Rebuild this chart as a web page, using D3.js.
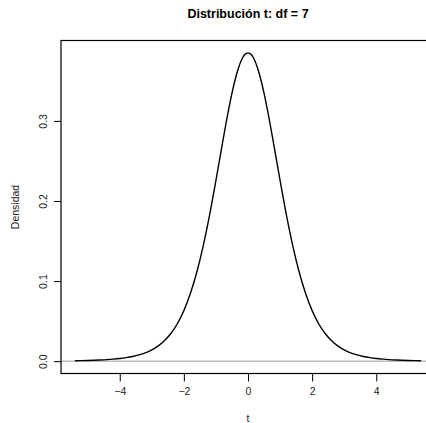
<!DOCTYPE html>
<html>
<head>
<meta charset="utf-8">
<script src="https://cdn.jsdelivr.net/npm/d3@7"></script>
<style>
  body { margin: 0; background: #fff; }
  svg { display: block; font-family: "Liberation Sans", Arial, sans-serif; }
</style>
</head>
<body>
<div id="chart"></div>
<script>
// density of t (df = 7)
var tValues = [-5.4, -5.2, -5.0, -4.8, -4.6, -4.4, -4.2, -4.0, -3.8, -3.6, -3.4, -3.2, -3.0,
               -2.8, -2.6, -2.4, -2.2, -2.0, -1.8, -1.6, -1.4, -1.2, -1.0, -0.8, -0.6, -0.5, -0.4,
               -0.3, -0.2, -0.1, 0, 0.1, 0.2, 0.3, 0.4, 0.5, 0.6, 0.8, 1.0, 1.2, 1.4, 1.6, 1.8,
               2.0, 2.2, 2.4, 2.6, 2.8, 3.0, 3.2, 3.4, 3.6, 3.8, 4.0, 4.2, 4.4, 4.6, 4.8, 5.0,
               5.2, 5.4];
var density = [0.00054, 0.00069, 0.00088, 0.00113, 0.00147, 0.00191, 0.00251, 0.00330, 0.00437,
               0.00582, 0.00779, 0.01047, 0.01411, 0.01906, 0.02579, 0.03487, 0.04703, 0.06313,
               0.08407, 0.11067, 0.14342, 0.18218, 0.22568, 0.27134, 0.31502, 0.33458, 0.35172,
               0.36582, 0.37632, 0.38281, 0.38500, 0.38281, 0.37632, 0.36582, 0.35172, 0.33458,
               0.31502, 0.27134, 0.22568, 0.18218, 0.14342, 0.11067, 0.08407,
               0.06313, 0.04703, 0.03487, 0.02579, 0.01906, 0.01411, 0.01047, 0.00779, 0.00582,
               0.00437, 0.00330, 0.00251, 0.00191, 0.00147, 0.00113, 0.00088, 0.00069, 0.00054];
var xTicks = [-4, -2, 0, 2, 4];
var yTicks = [0.0, 0.1, 0.2, 0.3];
var title = "Distribución t: df = 7";
var xLabel = "t";
var yLabel = "Densidad";

var W = 426, H = 423;
// plot region (window.top is reserved, so use a prefix)
var pLeft = 61, pRight = 435, pTop = 40.5, pBottom = 373.5;

var svg = d3.select('#chart').append('svg')
	.attr('width', W)
	.attr('height', H);

// R style 4% padding on the data range
var xMax = d3.max(tValues, function(d) { return Math.abs(d); }) * 1.08;
var x = d3.scaleLinear().domain([-xMax, xMax]).range([pLeft, pRight]);
var yPad = d3.max(density) * 0.04;
var y = d3.scaleLinear().domain([-yPad, d3.max(density) + yPad]).range([pBottom, pTop]);

// zero line
svg.append('line')
	.attr('x1', pLeft).attr('x2', pRight)
	.attr('y1', y(0)).attr('y2', y(0))
	.attr('stroke', '#bebebe')
	.attr('stroke-width', 1.5);

var line = d3.line()
	.curve(d3.curveMonotoneX)
	.x(function(d, i) { return x(tValues[i]); })
	.y(function(d) { return y(d); });

svg.append('path')
	.datum(density)
	.attr('d', line)
	.attr('fill', 'none')
	.attr('stroke', '#000')
	.attr('stroke-width', 1.4)
	.attr('stroke-linejoin', 'round');

// box (right side falls outside the window)
svg.append('rect')
	.attr('x', pLeft).attr('y', pTop)
	.attr('width', pRight - pLeft).attr('height', pBottom - pTop)
	.attr('fill', 'none')
	.attr('stroke', '#000')
	.attr('stroke-width', 1.2);

// x axis
var xAxis = d3.axisBottom(x)
	.tickValues(xTicks)
	.tickSize(8)
	.tickPadding(6)
	.tickFormat(function(d) { return d < 0 ? '\u2212' + Math.abs(d) : d; });
var gx = svg.append('g')
	.attr('transform', 'translate(0,' + pBottom + ')')
	.call(xAxis);
gx.select('.domain').remove();
gx.selectAll('line').attr('stroke', '#000');
gx.selectAll('text')
	.attr('fill', '#222')
	.style('font-size', '10.5px');

// y axis, labels rotated as in R
var yAxis = d3.axisLeft(y)
	.tickValues(yTicks)
	.tickSize(7)
	.tickFormat(d3.format('.1f'));
var gy = svg.append('g')
	.attr('transform', 'translate(' + pLeft + ',0)')
	.call(yAxis);
gy.select('.domain').remove();
gy.selectAll('line').attr('stroke', '#000');
gy.selectAll('text')
	.attr('x', 0).attr('dy', 0)
	.attr('transform', 'translate(-18,0) rotate(-90)')
	.attr('text-anchor', 'middle')
	.attr('dominant-baseline', 'central')
	.attr('fill', '#222')
	.style('font-size', '10.5px');

// titles
svg.append('text')
	.attr('x', (pLeft + pRight) / 2)
	.attr('y', 18)
	.attr('text-anchor', 'middle')
	.style('font-size', '12.5px')
	.style('font-weight', 'bold')
	.text(title);

svg.append('text')
	.attr('x', (pLeft + pRight) / 2)
	.attr('y', 422)
	.attr('text-anchor', 'middle')
	.attr('fill', '#222')
	.style('font-size', '10.5px')
	.text(xLabel);

svg.append('text')
	.attr('transform', 'translate(19,' + ((pTop + pBottom) / 2) + ') rotate(-90)')
	.attr('text-anchor', 'middle')
	.attr('fill', '#222')
	.style('font-size', '10.5px')
	.text(yLabel);
</script>
</body>
</html>
